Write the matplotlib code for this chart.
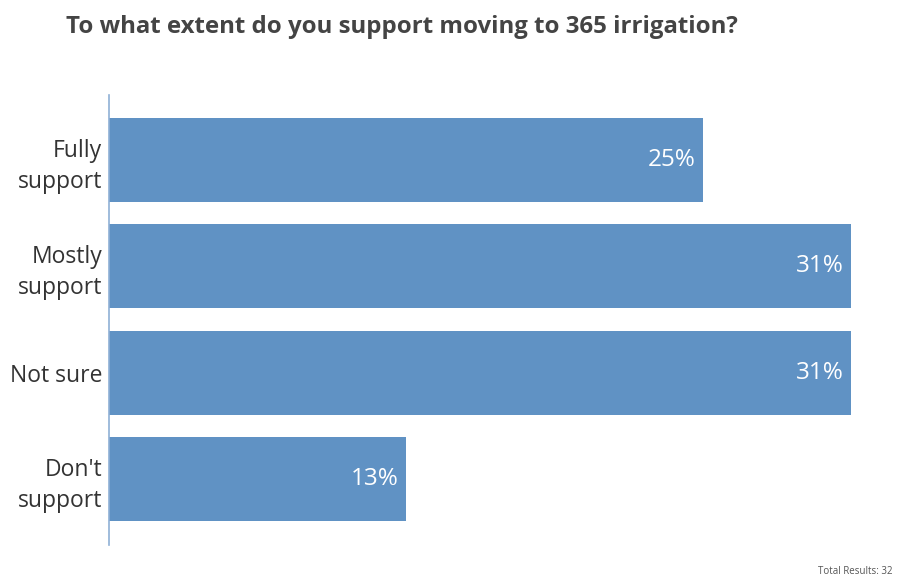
import matplotlib.pyplot as plt

categories = ["Fully\nsupport", "Mostly\nsupport", "Not sure", "Don't\nsupport"]
counts = [8, 10, 10, 4]
total = 32
percents = [c / total * 100 for c in counts]
labels = [f"{int(p + 0.5)}%" for p in percents]

bar_color = "#6092c4"

fig = plt.figure(figsize=(8.97, 5.83), dpi=100)
ax = fig.add_axes([0.1215, 0.0652, 0.8272, 0.7718])

y = list(range(len(categories)))
ax.barh(y, percents, height=0.79, color=bar_color)
ax.set_xlim(0, max(percents))
ax.set_ylim(3.62, -0.61)

for yi, p, lab in zip(y, percents, labels):
    ax.text(p - 0.3, yi, lab, ha="right", va="center", color="white",
            fontsize=17.5, family="Open Sans")

ax.set_yticks(y)
ax.set_yticklabels(categories, fontsize=16.5, color="#333333", family="Open Sans",
                   linespacing=1.4)
ax.tick_params(axis="y", length=0, pad=5)
ax.set_xticks([])
for s in ["top", "right", "bottom"]:
    ax.spines[s].set_visible(False)
ax.spines["left"].set_color("#8fb0d6")
ax.spines["left"].set_linewidth(1.2)

fig.text(0.0736, 0.953, "To what extent do you support moving to 365 irrigation?",
         fontsize=17.3, fontweight="bold", color="#444444", family="Open Sans",
         va="center", ha="left")
fig.text(0.995, 0.01, f"Total Results: {total}", fontsize=7, color="#555555",
         family="Open Sans", ha="right", va="bottom")

fig.savefig("out.png", dpi=100)
